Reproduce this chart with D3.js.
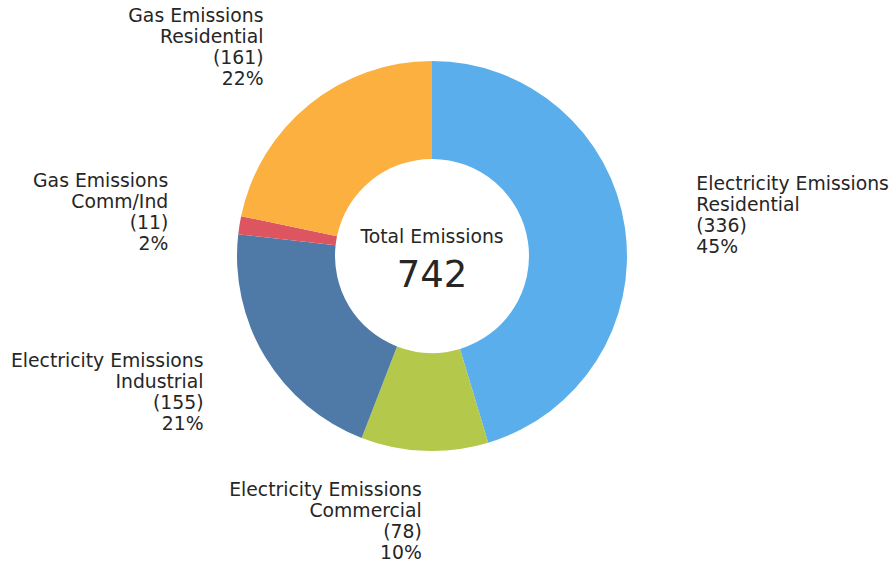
<!DOCTYPE html>
<html>
<head>
<meta charset="utf-8">
<script src="https://cdn.jsdelivr.net/npm/d3@7/dist/d3.min.js"></script>
<style>
  html, body { margin: 0; padding: 0; background: #ffffff; }
  svg { display: block; font-family: "DejaVu Sans", sans-serif; }
</style>
</head>
<body>
<svg id="chart" width="895" height="564"></svg>
<script>
// Emission sources, clockwise from 12 o'clock
const categories = [
  ["Electricity Emissions", "Residential"],
  ["Electricity Emissions", "Commercial"],
  ["Electricity Emissions", "Industrial"],
  ["Gas Emissions", "Comm/Ind"],
  ["Gas Emissions", "Residential"]
];
const values = [336, 78, 155, 11, 161];
const percentLabels = ["45%", "10%", "21%", "2%", "22%"];
const colors = ["#5aaeec", "#b4c84c", "#4f7aa8", "#dc5560", "#fbb040"];
const centerTitle = "Total Emissions";
const centerValue = "742";

const svg = d3.select("#chart");
const cx = 432, cy = 256;
const outerR = 195, innerR = 97;
const labelR = outerR * 1.37;

const g = svg.append("g").attr("transform", `translate(${cx},${cy})`);

const pie = d3.pie().sort(null).value(d => d)(values);
const arc = d3.arc().innerRadius(innerR).outerRadius(outerR);

g.selectAll("path.slice")
  .data(pie)
  .join("path")
  .attr("class", "slice")
  .attr("d", arc)
  .attr("fill", (d, i) => colors[i]);

// Labels placed outside each wedge, aligned away from the center
const lineH = 21;
pie.forEach((d, i) => {
  const a = (d.startAngle + d.endAngle) / 2;
  const x = labelR * Math.sin(a);
  const y = -labelR * Math.cos(a);
  const lines = [categories[i][0], categories[i][1], `(${values[i]})`, percentLabels[i]];
  const anchor = x >= 0 ? "start" : "end";
  const firstBase = y + 4.5 - lineH * (lines.length - 1) / 2;
  const t = g.append("text")
    .attr("text-anchor", anchor)
    .attr("font-size", 18.8)
    .attr("fill", "#262626");
  lines.forEach((s, k) => {
    t.append("tspan").attr("x", x).attr("y", firstBase + k * lineH).text(s);
  });
});

// Center annotation
g.append("text")
  .attr("text-anchor", "middle")
  .attr("y", -13)
  .attr("font-size", 18.8)
  .attr("fill", "#262626")
  .text(centerTitle);
g.append("text")
  .attr("text-anchor", "middle")
  .attr("y", 31)
  .attr("font-size", 37)
  .attr("fill", "#262626")
  .text(centerValue);
</script>
</body>
</html>
